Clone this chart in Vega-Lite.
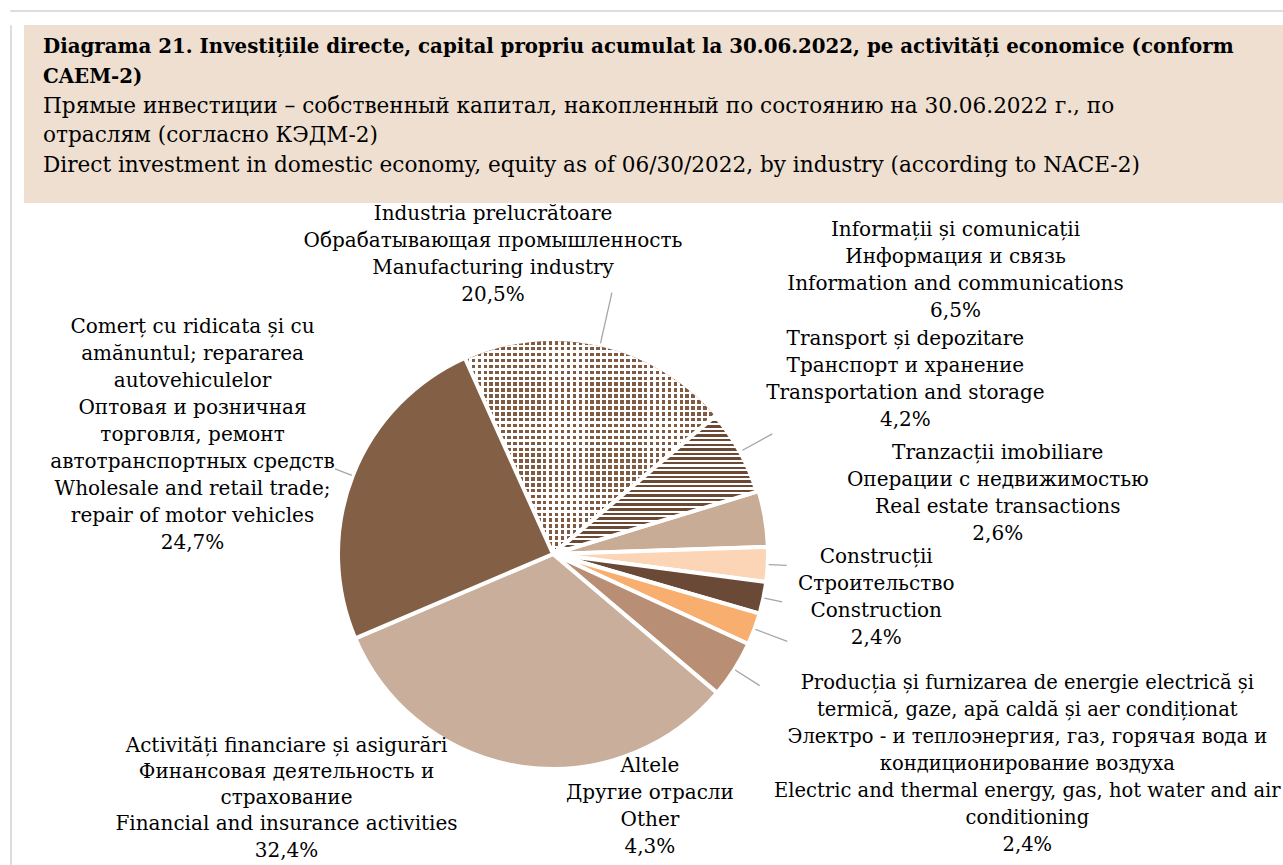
{
  "$schema": "https://vega.github.io/schema/vega-lite/v6.json",
  "padding": {"left": 9, "top": 9, "right": 0, "bottom": 0},
  "spacing": 12,
  "background": "white",
  "config": {"view": {"stroke": null}, "font": "DejaVu Serif"},
  "vconcat": [
    {
      "width": 1290, "height": 1,
      "view": {"stroke": "#DDDDDD", "strokeWidth": 1, "fill": "#DDDDDD"},
      "data": {"values": [{}]},
      "mark": {"type": "point", "opacity": 0, "size": 1}
    },
    {
      "spacing": 12,
      "hconcat": [
        {
          "width": 1, "height": 860,
          "view": {"stroke": "#DDDDDD", "strokeWidth": 1, "fill": "#DDDDDD"},
          "data": {"values": [{}]},
          "mark": {"type": "point", "opacity": 0, "size": 1}
        },
        {
          "spacing": 0,
          "vconcat": [
            {
              "width": 1261,
              "height": 178,
              "view": {"fill": "#EEDFD0", "stroke": null},
              "data": {"values": [
                {"line": 1, "text": "Diagrama 21. Investițiile directe, capital propriu acumulat la 30.06.2022, pe activități economice (conform"},
                {"line": 2, "text": "CAEM-2)"},
                {"line": 3, "text": "Прямые инвестиции – собственный капитал, накопленный по состоянию на 30.06.2022 г., по"},
                {"line": 4, "text": "отраслям (согласно КЭДМ-2)"},
                {"line": 5, "text": "Direct investment in domestic economy, equity as of 06/30/2022, by industry (according to NACE-2)"}
              ]},
              "encoding": {
                "y": {"field": "line", "type": "ordinal", "scale": {"type": "point", "domain": [1, 2, 3, 4, 5], "padding": 1.0, "align": 0.48}, "axis": null},
                "x": {"datum": 0, "type": "quantitative", "scale": {"domain": [0, 1]}, "axis": null},
                "text": {"field": "text", "type": "nominal"}
              },
              "layer": [
                {"transform": [{"filter": "datum.line <= 2"}],
                 "mark": {"type": "text", "align": "left", "baseline": "alphabetic", "dx": 19, "fontSize": 19.8, "fontWeight": "bold", "font": "DejaVu Serif", "color": "#000000"}},
                {"transform": [{"filter": "datum.line > 2"}],
                 "mark": {"type": "text", "align": "left", "baseline": "alphabetic", "dx": 19, "fontSize": 21.6, "font": "DejaVu Serif", "color": "#000000"}}
              ]
            },
            {
              "width": 1058,
              "height": 702,
              "data": {"values": [
                {"key": "manu", "order": 1, "value": 20.5, "label": ["Industria prelucrătoare", "Обрабатывающая промышленность", "Manufacturing industry", "20,5%"]},
                {"key": "info", "order": 2, "value": 6.5, "label": ["Informații și comunicații", "Информация и связь", "Information and communications", "6,5%"]},
                {"key": "transport", "order": 3, "value": 4.2, "label": ["Transport și depozitare", "Транспорт и хранение", "Transportation and storage", "4,2%"]},
                {"key": "realestate", "order": 4, "value": 2.6, "label": ["Tranzacții imobiliare", "Операции с недвижимостью", "Real estate transactions", "2,6%"]},
                {"key": "construction", "order": 5, "value": 2.4, "label": ["Construcții", "Строительство", "Construction", "2,4%"]},
                {"key": "energy", "order": 6, "value": 2.4, "label": ["Producția și furnizarea de energie electrică și", "termică, gaze, apă caldă și aer condiționat", "Электро - и теплоэнергия, газ, горячая вода и", "кондиционирование воздуха", "Electric and thermal energy, gas, hot water and air", "conditioning", "2,4%"]},
                {"key": "other", "order": 7, "value": 4.3, "label": ["Altele", "Другие отрасли", "Other", "4,3%"]},
                {"key": "financial", "order": 8, "value": 32.4, "label": ["Activități financiare și asigurări", "Финансовая деятельность и", "страхование", "Financial and insurance activities", "32,4%"]},
                {"key": "comert", "order": 9, "value": 24.7, "label": ["Comerț cu ridicata și cu", "amănuntul; repararea", "autovehiculelor", "Оптовая и розничная", "торговля,  ремонт", "автотранспортных средств", "Wholesale and retail trade;", "repair of motor vehicles", "24,7%"]}
              ]},
              "transform": [{"stack": "value", "groupby": [], "sort": [{"field": "order", "order": "ascending"}], "as": ["t0", "t1"]}],
              "layer": [
                {"mark": {"type": "arc", "radius": 215, "stroke": "white", "strokeWidth": 4},
                 "encoding": {
                   "theta": {"field": "t0", "type": "quantitative", "scale": {"domain": [0, 100], "range": [-0.4224, 5.8608]}},
                   "theta2": {"field": "t1"},
                   "color": {"field": "key", "type": "nominal", "legend": null,
                     "scale": {"domain": ["manu", "info", "transport", "realestate", "construction", "energy", "other", "financial", "comert"],
                               "range": ["#7F5B43", "#AA9484", "#C9AC96", "#FBD5B5", "#6A4A36", "#F7AE6F", "#B88F74", "#C9AE9B", "#835F45"]}}}},
                {"transform": [{"filter": "datum.key === 'manu'"}],
                 "mark": {"type": "arc", "radius": 213,
                   "fill": {"gradient": "linear", "x1": 0, "y1": 0, "x2": 0, "y2": 1, "stops": [
                     {"offset": 0, "color": "transparent"}, {"offset": 0.01667, "color": "transparent"}, {"offset": 0.01667, "color": "white"}, {"offset": 0.02778, "color": "white"},
                     {"offset": 0.02778, "color": "transparent"}, {"offset": 0.04444, "color": "transparent"}, {"offset": 0.04444, "color": "white"}, {"offset": 0.05556, "color": "white"},
                     {"offset": 0.05556, "color": "transparent"}, {"offset": 0.07222, "color": "transparent"}, {"offset": 0.07222, "color": "white"}, {"offset": 0.08333, "color": "white"},
                     {"offset": 0.08333, "color": "transparent"}, {"offset": 0.1, "color": "transparent"}, {"offset": 0.1, "color": "white"}, {"offset": 0.11111, "color": "white"},
                     {"offset": 0.11111, "color": "transparent"}, {"offset": 0.12778, "color": "transparent"}, {"offset": 0.12778, "color": "white"}, {"offset": 0.13889, "color": "white"},
                     {"offset": 0.13889, "color": "transparent"}, {"offset": 0.15556, "color": "transparent"}, {"offset": 0.15556, "color": "white"}, {"offset": 0.16667, "color": "white"},
                     {"offset": 0.16667, "color": "transparent"}, {"offset": 0.18333, "color": "transparent"}, {"offset": 0.18333, "color": "white"}, {"offset": 0.19444, "color": "white"},
                     {"offset": 0.19444, "color": "transparent"}, {"offset": 0.21111, "color": "transparent"}, {"offset": 0.21111, "color": "white"}, {"offset": 0.22222, "color": "white"},
                     {"offset": 0.22222, "color": "transparent"}, {"offset": 0.23889, "color": "transparent"}, {"offset": 0.23889, "color": "white"}, {"offset": 0.25, "color": "white"},
                     {"offset": 0.25, "color": "transparent"}, {"offset": 0.26667, "color": "transparent"}, {"offset": 0.26667, "color": "white"}, {"offset": 0.27778, "color": "white"},
                     {"offset": 0.27778, "color": "transparent"}, {"offset": 0.29444, "color": "transparent"}, {"offset": 0.29444, "color": "white"}, {"offset": 0.30556, "color": "white"},
                     {"offset": 0.30556, "color": "transparent"}, {"offset": 0.32222, "color": "transparent"}, {"offset": 0.32222, "color": "white"}, {"offset": 0.33333, "color": "white"},
                     {"offset": 0.33333, "color": "transparent"}, {"offset": 0.35, "color": "transparent"}, {"offset": 0.35, "color": "white"}, {"offset": 0.36111, "color": "white"},
                     {"offset": 0.36111, "color": "transparent"}, {"offset": 0.37778, "color": "transparent"}, {"offset": 0.37778, "color": "white"}, {"offset": 0.38889, "color": "white"},
                     {"offset": 0.38889, "color": "transparent"}, {"offset": 0.40556, "color": "transparent"}, {"offset": 0.40556, "color": "white"}, {"offset": 0.41667, "color": "white"},
                     {"offset": 0.41667, "color": "transparent"}, {"offset": 0.43333, "color": "transparent"}, {"offset": 0.43333, "color": "white"}, {"offset": 0.44444, "color": "white"},
                     {"offset": 0.44444, "color": "transparent"}, {"offset": 0.46111, "color": "transparent"}, {"offset": 0.46111, "color": "white"}, {"offset": 0.47222, "color": "white"},
                     {"offset": 0.47222, "color": "transparent"}, {"offset": 0.48889, "color": "transparent"}, {"offset": 0.48889, "color": "white"}, {"offset": 0.5, "color": "white"},
                     {"offset": 0.5, "color": "transparent"}, {"offset": 0.51667, "color": "transparent"}, {"offset": 0.51667, "color": "white"}, {"offset": 0.52778, "color": "white"},
                     {"offset": 0.52778, "color": "transparent"}, {"offset": 0.54444, "color": "transparent"}, {"offset": 0.54444, "color": "white"}, {"offset": 0.55556, "color": "white"},
                     {"offset": 0.55556, "color": "transparent"}, {"offset": 0.57222, "color": "transparent"}, {"offset": 0.57222, "color": "white"}, {"offset": 0.58333, "color": "white"},
                     {"offset": 0.58333, "color": "transparent"}, {"offset": 0.6, "color": "transparent"}, {"offset": 0.6, "color": "white"}, {"offset": 0.61111, "color": "white"},
                     {"offset": 0.61111, "color": "transparent"}, {"offset": 0.62778, "color": "transparent"}, {"offset": 0.62778, "color": "white"}, {"offset": 0.63889, "color": "white"},
                     {"offset": 0.63889, "color": "transparent"}, {"offset": 0.65556, "color": "transparent"}, {"offset": 0.65556, "color": "white"}, {"offset": 0.66667, "color": "white"},
                     {"offset": 0.66667, "color": "transparent"}, {"offset": 0.68333, "color": "transparent"}, {"offset": 0.68333, "color": "white"}, {"offset": 0.69444, "color": "white"},
                     {"offset": 0.69444, "color": "transparent"}, {"offset": 0.71111, "color": "transparent"}, {"offset": 0.71111, "color": "white"}, {"offset": 0.72222, "color": "white"},
                     {"offset": 0.72222, "color": "transparent"}, {"offset": 0.73889, "color": "transparent"}, {"offset": 0.73889, "color": "white"}, {"offset": 0.75, "color": "white"},
                     {"offset": 0.75, "color": "transparent"}, {"offset": 0.76667, "color": "transparent"}, {"offset": 0.76667, "color": "white"}, {"offset": 0.77778, "color": "white"},
                     {"offset": 0.77778, "color": "transparent"}, {"offset": 0.79444, "color": "transparent"}, {"offset": 0.79444, "color": "white"}, {"offset": 0.80556, "color": "white"},
                     {"offset": 0.80556, "color": "transparent"}, {"offset": 0.82222, "color": "transparent"}, {"offset": 0.82222, "color": "white"}, {"offset": 0.83333, "color": "white"},
                     {"offset": 0.83333, "color": "transparent"}, {"offset": 0.85, "color": "transparent"}, {"offset": 0.85, "color": "white"}, {"offset": 0.86111, "color": "white"},
                     {"offset": 0.86111, "color": "transparent"}, {"offset": 0.87778, "color": "transparent"}, {"offset": 0.87778, "color": "white"}, {"offset": 0.88889, "color": "white"},
                     {"offset": 0.88889, "color": "transparent"}, {"offset": 0.90556, "color": "transparent"}, {"offset": 0.90556, "color": "white"}, {"offset": 0.91667, "color": "white"},
                     {"offset": 0.91667, "color": "transparent"}, {"offset": 0.93333, "color": "transparent"}, {"offset": 0.93333, "color": "white"}, {"offset": 0.94444, "color": "white"},
                     {"offset": 0.94444, "color": "transparent"}, {"offset": 0.96111, "color": "transparent"}, {"offset": 0.96111, "color": "white"}, {"offset": 0.97222, "color": "white"},
                     {"offset": 0.97222, "color": "transparent"}, {"offset": 0.98889, "color": "transparent"}, {"offset": 0.98889, "color": "white"}, {"offset": 1, "color": "white"}
                   ]}},
                 "encoding": {
                   "theta": {"field": "t0", "type": "quantitative", "scale": {"domain": [0, 100], "range": [-0.4224, 5.8608]}},
                   "theta2": {"field": "t1"}}},
                {"transform": [{"filter": "datum.key === 'manu'"}],
                 "mark": {"type": "arc", "radius": 213,
                   "fill": {"gradient": "linear", "x1": 0, "y1": 0, "x2": 1, "y2": 0, "stops": [
                     {"offset": 0, "color": "transparent"}, {"offset": 0.01429, "color": "transparent"}, {"offset": 0.01429, "color": "white"}, {"offset": 0.02381, "color": "white"},
                     {"offset": 0.02381, "color": "transparent"}, {"offset": 0.0381, "color": "transparent"}, {"offset": 0.0381, "color": "white"}, {"offset": 0.04762, "color": "white"},
                     {"offset": 0.04762, "color": "transparent"}, {"offset": 0.0619, "color": "transparent"}, {"offset": 0.0619, "color": "white"}, {"offset": 0.07143, "color": "white"},
                     {"offset": 0.07143, "color": "transparent"}, {"offset": 0.08571, "color": "transparent"}, {"offset": 0.08571, "color": "white"}, {"offset": 0.09524, "color": "white"},
                     {"offset": 0.09524, "color": "transparent"}, {"offset": 0.10952, "color": "transparent"}, {"offset": 0.10952, "color": "white"}, {"offset": 0.11905, "color": "white"},
                     {"offset": 0.11905, "color": "transparent"}, {"offset": 0.13333, "color": "transparent"}, {"offset": 0.13333, "color": "white"}, {"offset": 0.14286, "color": "white"},
                     {"offset": 0.14286, "color": "transparent"}, {"offset": 0.15714, "color": "transparent"}, {"offset": 0.15714, "color": "white"}, {"offset": 0.16667, "color": "white"},
                     {"offset": 0.16667, "color": "transparent"}, {"offset": 0.18095, "color": "transparent"}, {"offset": 0.18095, "color": "white"}, {"offset": 0.19048, "color": "white"},
                     {"offset": 0.19048, "color": "transparent"}, {"offset": 0.20476, "color": "transparent"}, {"offset": 0.20476, "color": "white"}, {"offset": 0.21429, "color": "white"},
                     {"offset": 0.21429, "color": "transparent"}, {"offset": 0.22857, "color": "transparent"}, {"offset": 0.22857, "color": "white"}, {"offset": 0.2381, "color": "white"},
                     {"offset": 0.2381, "color": "transparent"}, {"offset": 0.25238, "color": "transparent"}, {"offset": 0.25238, "color": "white"}, {"offset": 0.2619, "color": "white"},
                     {"offset": 0.2619, "color": "transparent"}, {"offset": 0.27619, "color": "transparent"}, {"offset": 0.27619, "color": "white"}, {"offset": 0.28571, "color": "white"},
                     {"offset": 0.28571, "color": "transparent"}, {"offset": 0.3, "color": "transparent"}, {"offset": 0.3, "color": "white"}, {"offset": 0.30952, "color": "white"},
                     {"offset": 0.30952, "color": "transparent"}, {"offset": 0.32381, "color": "transparent"}, {"offset": 0.32381, "color": "white"}, {"offset": 0.33333, "color": "white"},
                     {"offset": 0.33333, "color": "transparent"}, {"offset": 0.34762, "color": "transparent"}, {"offset": 0.34762, "color": "white"}, {"offset": 0.35714, "color": "white"},
                     {"offset": 0.35714, "color": "transparent"}, {"offset": 0.37143, "color": "transparent"}, {"offset": 0.37143, "color": "white"}, {"offset": 0.38095, "color": "white"},
                     {"offset": 0.38095, "color": "transparent"}, {"offset": 0.39524, "color": "transparent"}, {"offset": 0.39524, "color": "white"}, {"offset": 0.40476, "color": "white"},
                     {"offset": 0.40476, "color": "transparent"}, {"offset": 0.41905, "color": "transparent"}, {"offset": 0.41905, "color": "white"}, {"offset": 0.42857, "color": "white"},
                     {"offset": 0.42857, "color": "transparent"}, {"offset": 0.44286, "color": "transparent"}, {"offset": 0.44286, "color": "white"}, {"offset": 0.45238, "color": "white"},
                     {"offset": 0.45238, "color": "transparent"}, {"offset": 0.46667, "color": "transparent"}, {"offset": 0.46667, "color": "white"}, {"offset": 0.47619, "color": "white"},
                     {"offset": 0.47619, "color": "transparent"}, {"offset": 0.49048, "color": "transparent"}, {"offset": 0.49048, "color": "white"}, {"offset": 0.5, "color": "white"},
                     {"offset": 0.5, "color": "transparent"}, {"offset": 0.51429, "color": "transparent"}, {"offset": 0.51429, "color": "white"}, {"offset": 0.52381, "color": "white"},
                     {"offset": 0.52381, "color": "transparent"}, {"offset": 0.5381, "color": "transparent"}, {"offset": 0.5381, "color": "white"}, {"offset": 0.54762, "color": "white"},
                     {"offset": 0.54762, "color": "transparent"}, {"offset": 0.5619, "color": "transparent"}, {"offset": 0.5619, "color": "white"}, {"offset": 0.57143, "color": "white"},
                     {"offset": 0.57143, "color": "transparent"}, {"offset": 0.58571, "color": "transparent"}, {"offset": 0.58571, "color": "white"}, {"offset": 0.59524, "color": "white"},
                     {"offset": 0.59524, "color": "transparent"}, {"offset": 0.60952, "color": "transparent"}, {"offset": 0.60952, "color": "white"}, {"offset": 0.61905, "color": "white"},
                     {"offset": 0.61905, "color": "transparent"}, {"offset": 0.63333, "color": "transparent"}, {"offset": 0.63333, "color": "white"}, {"offset": 0.64286, "color": "white"},
                     {"offset": 0.64286, "color": "transparent"}, {"offset": 0.65714, "color": "transparent"}, {"offset": 0.65714, "color": "white"}, {"offset": 0.66667, "color": "white"},
                     {"offset": 0.66667, "color": "transparent"}, {"offset": 0.68095, "color": "transparent"}, {"offset": 0.68095, "color": "white"}, {"offset": 0.69048, "color": "white"},
                     {"offset": 0.69048, "color": "transparent"}, {"offset": 0.70476, "color": "transparent"}, {"offset": 0.70476, "color": "white"}, {"offset": 0.71429, "color": "white"},
                     {"offset": 0.71429, "color": "transparent"}, {"offset": 0.72857, "color": "transparent"}, {"offset": 0.72857, "color": "white"}, {"offset": 0.7381, "color": "white"},
                     {"offset": 0.7381, "color": "transparent"}, {"offset": 0.75238, "color": "transparent"}, {"offset": 0.75238, "color": "white"}, {"offset": 0.7619, "color": "white"},
                     {"offset": 0.7619, "color": "transparent"}, {"offset": 0.77619, "color": "transparent"}, {"offset": 0.77619, "color": "white"}, {"offset": 0.78571, "color": "white"},
                     {"offset": 0.78571, "color": "transparent"}, {"offset": 0.8, "color": "transparent"}, {"offset": 0.8, "color": "white"}, {"offset": 0.80952, "color": "white"},
                     {"offset": 0.80952, "color": "transparent"}, {"offset": 0.82381, "color": "transparent"}, {"offset": 0.82381, "color": "white"}, {"offset": 0.83333, "color": "white"},
                     {"offset": 0.83333, "color": "transparent"}, {"offset": 0.84762, "color": "transparent"}, {"offset": 0.84762, "color": "white"}, {"offset": 0.85714, "color": "white"},
                     {"offset": 0.85714, "color": "transparent"}, {"offset": 0.87143, "color": "transparent"}, {"offset": 0.87143, "color": "white"}, {"offset": 0.88095, "color": "white"},
                     {"offset": 0.88095, "color": "transparent"}, {"offset": 0.89524, "color": "transparent"}, {"offset": 0.89524, "color": "white"}, {"offset": 0.90476, "color": "white"},
                     {"offset": 0.90476, "color": "transparent"}, {"offset": 0.91905, "color": "transparent"}, {"offset": 0.91905, "color": "white"}, {"offset": 0.92857, "color": "white"},
                     {"offset": 0.92857, "color": "transparent"}, {"offset": 0.94286, "color": "transparent"}, {"offset": 0.94286, "color": "white"}, {"offset": 0.95238, "color": "white"},
                     {"offset": 0.95238, "color": "transparent"}, {"offset": 0.96667, "color": "transparent"}, {"offset": 0.96667, "color": "white"}, {"offset": 0.97619, "color": "white"},
                     {"offset": 0.97619, "color": "transparent"}, {"offset": 0.99048, "color": "transparent"}, {"offset": 0.99048, "color": "white"}, {"offset": 1, "color": "white"}
                   ]}},
                 "encoding": {
                   "theta": {"field": "t0", "type": "quantitative", "scale": {"domain": [0, 100], "range": [-0.4224, 5.8608]}},
                   "theta2": {"field": "t1"}}},
                {"transform": [{"filter": "datum.key === 'info'"}],
                 "mark": {"type": "arc", "radius": 213,
                   "fill": {"gradient": "linear", "x1": 0, "y1": 0, "x2": 0, "y2": 1, "stops": [
                     {"offset": 0, "color": "#6B4A35"}, {"offset": 0.0183, "color": "#6B4A35"}, {"offset": 0.0183, "color": "#FFFFFF"}, {"offset": 0.0333, "color": "#FFFFFF"},
                     {"offset": 0.0333, "color": "#6B4A35"}, {"offset": 0.0517, "color": "#6B4A35"}, {"offset": 0.0517, "color": "#FFFFFF"}, {"offset": 0.0667, "color": "#FFFFFF"},
                     {"offset": 0.0667, "color": "#6B4A35"}, {"offset": 0.085, "color": "#6B4A35"}, {"offset": 0.085, "color": "#FFFFFF"}, {"offset": 0.1, "color": "#FFFFFF"},
                     {"offset": 0.1, "color": "#6B4A35"}, {"offset": 0.1183, "color": "#6B4A35"}, {"offset": 0.1183, "color": "#FFFFFF"}, {"offset": 0.1333, "color": "#FFFFFF"},
                     {"offset": 0.1333, "color": "#6B4A35"}, {"offset": 0.1517, "color": "#6B4A35"}, {"offset": 0.1517, "color": "#FFFFFF"}, {"offset": 0.1667, "color": "#FFFFFF"},
                     {"offset": 0.1667, "color": "#6B4A35"}, {"offset": 0.185, "color": "#6B4A35"}, {"offset": 0.185, "color": "#FFFFFF"}, {"offset": 0.2, "color": "#FFFFFF"},
                     {"offset": 0.2, "color": "#6B4A35"}, {"offset": 0.2183, "color": "#6B4A35"}, {"offset": 0.2183, "color": "#FFFFFF"}, {"offset": 0.2333, "color": "#FFFFFF"},
                     {"offset": 0.2333, "color": "#6B4A35"}, {"offset": 0.2517, "color": "#6B4A35"}, {"offset": 0.2517, "color": "#FFFFFF"}, {"offset": 0.2667, "color": "#FFFFFF"},
                     {"offset": 0.2667, "color": "#6B4A35"}, {"offset": 0.285, "color": "#6B4A35"}, {"offset": 0.285, "color": "#FFFFFF"}, {"offset": 0.3, "color": "#FFFFFF"},
                     {"offset": 0.3, "color": "#6B4A35"}, {"offset": 0.3183, "color": "#6B4A35"}, {"offset": 0.3183, "color": "#FFFFFF"}, {"offset": 0.3333, "color": "#FFFFFF"},
                     {"offset": 0.3333, "color": "#6B4A35"}, {"offset": 0.3517, "color": "#6B4A35"}, {"offset": 0.3517, "color": "#FFFFFF"}, {"offset": 0.3667, "color": "#FFFFFF"},
                     {"offset": 0.3667, "color": "#6B4A35"}, {"offset": 0.385, "color": "#6B4A35"}, {"offset": 0.385, "color": "#FFFFFF"}, {"offset": 0.4, "color": "#FFFFFF"},
                     {"offset": 0.4, "color": "#6B4A35"}, {"offset": 0.4183, "color": "#6B4A35"}, {"offset": 0.4183, "color": "#FFFFFF"}, {"offset": 0.4333, "color": "#FFFFFF"},
                     {"offset": 0.4333, "color": "#6B4A35"}, {"offset": 0.4517, "color": "#6B4A35"}, {"offset": 0.4517, "color": "#FFFFFF"}, {"offset": 0.4667, "color": "#FFFFFF"},
                     {"offset": 0.4667, "color": "#6B4A35"}, {"offset": 0.485, "color": "#6B4A35"}, {"offset": 0.485, "color": "#FFFFFF"}, {"offset": 0.5, "color": "#FFFFFF"},
                     {"offset": 0.5, "color": "#6B4A35"}, {"offset": 0.5183, "color": "#6B4A35"}, {"offset": 0.5183, "color": "#FFFFFF"}, {"offset": 0.5333, "color": "#FFFFFF"},
                     {"offset": 0.5333, "color": "#6B4A35"}, {"offset": 0.5517, "color": "#6B4A35"}, {"offset": 0.5517, "color": "#FFFFFF"}, {"offset": 0.5667, "color": "#FFFFFF"},
                     {"offset": 0.5667, "color": "#6B4A35"}, {"offset": 0.585, "color": "#6B4A35"}, {"offset": 0.585, "color": "#FFFFFF"}, {"offset": 0.6, "color": "#FFFFFF"},
                     {"offset": 0.6, "color": "#6B4A35"}, {"offset": 0.6183, "color": "#6B4A35"}, {"offset": 0.6183, "color": "#FFFFFF"}, {"offset": 0.6333, "color": "#FFFFFF"},
                     {"offset": 0.6333, "color": "#6B4A35"}, {"offset": 0.6517, "color": "#6B4A35"}, {"offset": 0.6517, "color": "#FFFFFF"}, {"offset": 0.6667, "color": "#FFFFFF"},
                     {"offset": 0.6667, "color": "#6B4A35"}, {"offset": 0.685, "color": "#6B4A35"}, {"offset": 0.685, "color": "#FFFFFF"}, {"offset": 0.7, "color": "#FFFFFF"},
                     {"offset": 0.7, "color": "#6B4A35"}, {"offset": 0.7183, "color": "#6B4A35"}, {"offset": 0.7183, "color": "#FFFFFF"}, {"offset": 0.7333, "color": "#FFFFFF"},
                     {"offset": 0.7333, "color": "#6B4A35"}, {"offset": 0.7517, "color": "#6B4A35"}, {"offset": 0.7517, "color": "#FFFFFF"}, {"offset": 0.7667, "color": "#FFFFFF"},
                     {"offset": 0.7667, "color": "#6B4A35"}, {"offset": 0.785, "color": "#6B4A35"}, {"offset": 0.785, "color": "#FFFFFF"}, {"offset": 0.8, "color": "#FFFFFF"},
                     {"offset": 0.8, "color": "#6B4A35"}, {"offset": 0.8183, "color": "#6B4A35"}, {"offset": 0.8183, "color": "#FFFFFF"}, {"offset": 0.8333, "color": "#FFFFFF"},
                     {"offset": 0.8333, "color": "#6B4A35"}, {"offset": 0.8517, "color": "#6B4A35"}, {"offset": 0.8517, "color": "#FFFFFF"}, {"offset": 0.8667, "color": "#FFFFFF"},
                     {"offset": 0.8667, "color": "#6B4A35"}, {"offset": 0.885, "color": "#6B4A35"}, {"offset": 0.885, "color": "#FFFFFF"}, {"offset": 0.9, "color": "#FFFFFF"},
                     {"offset": 0.9, "color": "#6B4A35"}, {"offset": 0.9183, "color": "#6B4A35"}, {"offset": 0.9183, "color": "#FFFFFF"}, {"offset": 0.9333, "color": "#FFFFFF"},
                     {"offset": 0.9333, "color": "#6B4A35"}, {"offset": 0.9517, "color": "#6B4A35"}, {"offset": 0.9517, "color": "#FFFFFF"}, {"offset": 0.9667, "color": "#FFFFFF"},
                     {"offset": 0.9667, "color": "#6B4A35"}, {"offset": 0.985, "color": "#6B4A35"}, {"offset": 0.985, "color": "#FFFFFF"}, {"offset": 1, "color": "#FFFFFF"}
                   ]},
                   "stroke": "white", "strokeWidth": 4},
                 "encoding": {
                   "theta": {"field": "t0", "type": "quantitative", "scale": {"domain": [0, 100], "range": [-0.4224, 5.8608]}},
                   "theta2": {"field": "t1"}}},
                {"transform": [{"filter": "datum.key === 'manu'"}],
                 "mark": {"type": "arc", "radius": 268, "radius2": 216, "padAngle": 3, "fillOpacity": 0, "stroke": "#A6A6A6", "strokeWidth": 1.3},
                 "encoding": {"theta": {"field": "t0", "type": "quantitative", "scale": {"domain": [0, 100], "range": [-0.4224, 5.8608]}}, "theta2": {"field": "t1"}}},
                {"transform": [{"filter": "datum.key === 'comert' || datum.key === 'construction' || datum.key === 'realestate'"}],
                 "mark": {"type": "arc", "radius": 234, "radius2": 216, "padAngle": 3, "fillOpacity": 0, "stroke": "#A6A6A6", "strokeWidth": 1.3},
                 "encoding": {"theta": {"field": "t0", "type": "quantitative", "scale": {"domain": [0, 100], "range": [-0.4224, 5.8608]}}, "theta2": {"field": "t1"}}},
                {"transform": [{"filter": "datum.key === 'info' || datum.key === 'energy'"}],
                 "mark": {"type": "arc", "radius": 250, "radius2": 216, "padAngle": 3, "fillOpacity": 0, "stroke": "#A6A6A6", "strokeWidth": 1.3},
                 "encoding": {"theta": {"field": "t0", "type": "quantitative", "scale": {"domain": [0, 100], "range": [-0.4224, 5.8608]}}, "theta2": {"field": "t1"}}},
                {"transform": [{"filter": "datum.key === 'other'"}],
                 "mark": {"type": "arc", "radius": 245, "radius2": 216, "padAngle": 3, "fillOpacity": 0, "stroke": "#A6A6A6", "strokeWidth": 1.3},
                 "encoding": {"theta": {"field": "t0", "type": "quantitative", "scale": {"domain": [0, 100], "range": [-0.4224, 5.8608]}}, "theta2": {"field": "t1"}}},
                {"transform": [{"filter": "datum.key === 'manu'"}],
                 "mark": {"type": "text", "radius": 300, "dx": 63, "dy": -60, "align": "center", "baseline": "alphabetic", "lineHeight": 27, "fontSize": 20, "font": "DejaVu Serif", "color": "#000000"},
                 "encoding": {"theta": {"field": "t0", "type": "quantitative", "scale": {"domain": [0, 100], "range": [-0.4224, 5.8608]}}, "text": {"field": "label", "type": "nominal"}}},
                {"transform": [{"filter": "datum.key === 'info'"}],
                 "mark": {"type": "text", "radius": 480, "dx": 37, "dy": -7, "align": "center", "baseline": "alphabetic", "lineHeight": 27, "fontSize": 20, "font": "DejaVu Serif", "color": "#000000"},
                 "encoding": {"theta": {"field": "t0", "type": "quantitative", "scale": {"domain": [0, 100], "range": [-0.4224, 5.8608]}}, "text": {"field": "label", "type": "nominal"}}},
                {"transform": [{"filter": "datum.key === 'transport'"}],
                 "mark": {"type": "text", "radius": 380, "dx": -11, "dy": -98, "align": "center", "baseline": "alphabetic", "lineHeight": 27, "fontSize": 20, "font": "DejaVu Serif", "color": "#000000"},
                 "encoding": {"theta": {"field": "t0", "type": "quantitative", "scale": {"domain": [0, 100], "range": [-0.4224, 5.8608]}}, "text": {"field": "label", "type": "nominal"}}},
                {"transform": [{"filter": "datum.key === 'realestate'"}],
                 "mark": {"type": "text", "radius": 450, "dx": -5, "dy": -80, "align": "center", "baseline": "alphabetic", "lineHeight": 27, "fontSize": 20, "font": "DejaVu Serif", "color": "#000000"},
                 "encoding": {"theta": {"field": "t0", "type": "quantitative", "scale": {"domain": [0, 100], "range": [-0.4224, 5.8608]}}, "text": {"field": "label", "type": "nominal"}}},
                {"transform": [{"filter": "datum.key === 'construction'"}],
                 "mark": {"type": "text", "radius": 325, "dx": 1, "dy": -33, "align": "center", "baseline": "alphabetic", "lineHeight": 27, "fontSize": 20, "font": "DejaVu Serif", "color": "#000000"},
                 "encoding": {"theta": {"field": "t0", "type": "quantitative", "scale": {"domain": [0, 100], "range": [-0.4224, 5.8608]}}, "text": {"field": "label", "type": "nominal"}}},
                {"transform": [{"filter": "datum.key === 'energy'"}],
                 "mark": {"type": "text", "radius": 500, "dx": -6, "dy": -4, "align": "center", "baseline": "alphabetic", "lineHeight": 27, "fontSize": 19.5, "font": "DejaVu Serif", "color": "#000000"},
                 "encoding": {"theta": {"field": "t0", "type": "quantitative", "scale": {"domain": [0, 100], "range": [-0.4224, 5.8608]}}, "text": {"field": "label", "type": "nominal"}}},
                {"transform": [{"filter": "datum.key === 'other'"}],
                 "mark": {"type": "text", "radius": 240, "dx": -121, "dy": 117, "align": "center", "baseline": "alphabetic", "lineHeight": 27, "fontSize": 20, "font": "DejaVu Serif", "color": "#000000"},
                 "encoding": {"theta": {"field": "t0", "type": "quantitative", "scale": {"domain": [0, 100], "range": [-0.4224, 5.8608]}}, "text": {"field": "label", "type": "nominal"}}},
                {"transform": [{"filter": "datum.key === 'financial'"}],
                 "mark": {"type": "text", "radius": 330, "dx": 37, "dy": 68, "align": "center", "baseline": "alphabetic", "lineHeight": 26.3, "fontSize": 20, "font": "DejaVu Serif", "color": "#000000"},
                 "encoding": {"theta": {"field": "t1", "type": "quantitative", "scale": {"domain": [0, 100], "range": [-0.4224, 5.8608]}}, "text": {"field": "label", "type": "nominal"}}},
                {"transform": [{"filter": "datum.key === 'comert'"}],
                 "mark": {"type": "text", "radius": 380, "dx": -11, "dy": -370, "align": "center", "baseline": "alphabetic", "lineHeight": 27, "fontSize": 20, "font": "DejaVu Serif", "color": "#000000"},
                 "encoding": {"theta": {"field": "t0", "type": "quantitative", "scale": {"domain": [0, 100], "range": [-0.4224, 5.8608]}}, "text": {"field": "label", "type": "nominal"}}}
              ]
            }
          ]
        }
      ]
    }
  ]
}
